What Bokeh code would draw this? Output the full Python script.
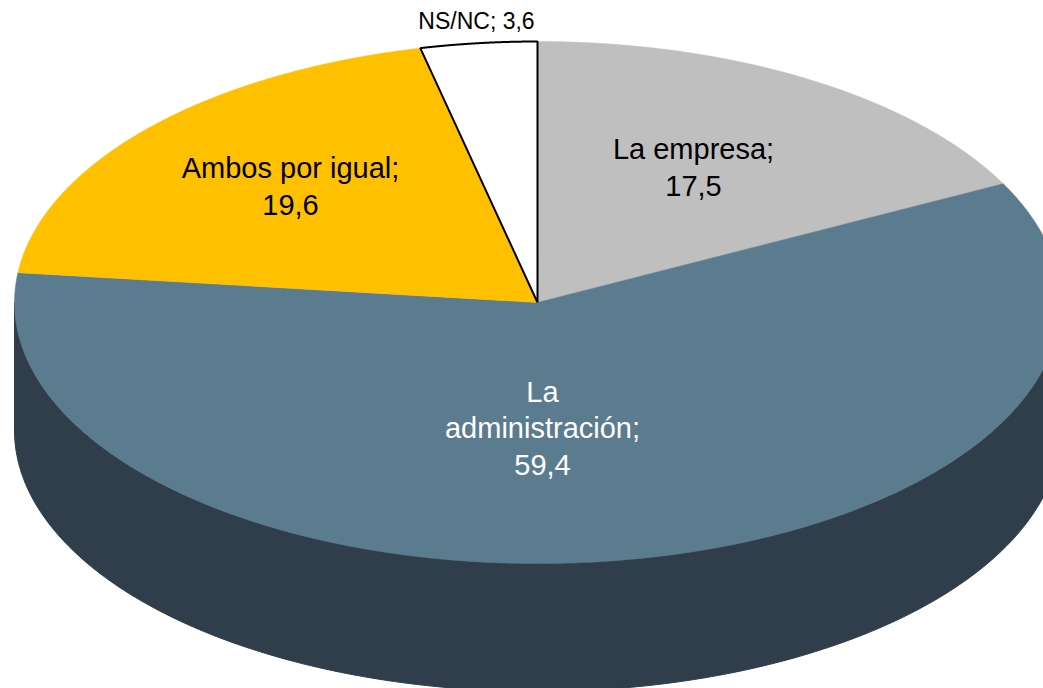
import numpy as np
from bokeh.plotting import figure
from bokeh.models import Range1d, ColumnDataSource
from bokeh.core.properties import value
from bokeh.embed import file_html
from bokeh.resources import INLINE

# ---- data ----
categories = ["La empresa", "La administración", "Ambos por igual", "NS/NC"]
values = [17.5, 59.4, 19.6, 3.6]
top_colors = ["#BFBFBF", "#5B7C8F", "#FFC000", "#FFFFFF"]
side_colors = ["#8F8F8F", "#2F3E4A", "#BF9000", "#BFBFBF"]
label_colors = ["black", "white", "black", "black"]

# ---- layout (screen pixel coordinates) ----
W, H = 1043, 688
cx, cy, rx, ry, depth = 537.0, 302.0, 523.0, 261.0, 128.0

p = figure(width=W, height=H, output_backend="svg", toolbar_location=None,
           x_range=Range1d(0, W), y_range=Range1d(H, 0),
           x_axis_type=None, y_axis_type=None, min_border=0,
           background_fill_color="white", border_fill_color="white")
p.outline_line_color = None
p.grid.visible = False

total = sum(values)
fr = np.cumsum([0] + [v / total for v in values])
angles = fr * 2 * np.pi  # clockwise from 12 o'clock


def ell(t, dz=0.0):
    return cx + rx * np.sin(t), cy - ry * np.cos(t) + dz


# side walls (only the front half, 90°..270°, is visible)
sxs, sys_, scol = [], [], []
for i in range(len(values)):
    a0 = max(angles[i], np.pi / 2)
    a1 = min(angles[i + 1], 3 * np.pi / 2)
    if a1 <= a0:
        continue
    t = np.linspace(a0, a1, 200)
    x1, y1 = ell(t)
    x2, y2 = ell(t[::-1], depth)
    sxs.append(list(np.concatenate([x1, x2])))
    sys_.append(list(np.concatenate([y1, y2])))
    scol.append(side_colors[i])
p.patches(xs=sxs, ys=sys_, fill_color=scol, line_color=scol, line_width=1)

# top faces
txs, tys = [], []
for i in range(len(values)):
    t = np.linspace(angles[i], angles[i + 1], 300)
    x, y = ell(t)
    txs.append([cx] + list(x) + [cx])
    tys.append([cy] + list(y) + [cy])
src = ColumnDataSource(dict(xs=txs, ys=tys, fc=top_colors))
p.patches(xs="xs", ys="ys", fill_color="fc", line_color="fc", line_width=0.5, source=src)
# outline for white slice
wi = top_colors.index("#FFFFFF")
p.line(x=txs[wi], y=tys[wi], line_color="black", line_width=2)

# labels
def fmt(v):
    return f"{v:.1f}".replace(".", ",")

label_text = [
    f"{categories[0]};\n{fmt(values[0])}",
    "La\nadministración;\n" + fmt(values[1]),
    f"{categories[2]};\n{fmt(values[2])}",
    f"{categories[3]}; {fmt(values[3])}",
]
lx = [693, 542, 290, 476]
ly = [167, 428, 186, 20]
lsize = ["29px", "29px", "29px", "23px"]

for i in range(4):
    p.text(x=[lx[i]], y=[ly[i]], text=[label_text[i]],
           text_font=value("Liberation Sans"), text_font_size=lsize[i],
           text_align="center", text_baseline="middle",
           text_color=label_colors[i], text_line_height=1.15)

open("out.html", "w").write(file_html(p, INLINE))
